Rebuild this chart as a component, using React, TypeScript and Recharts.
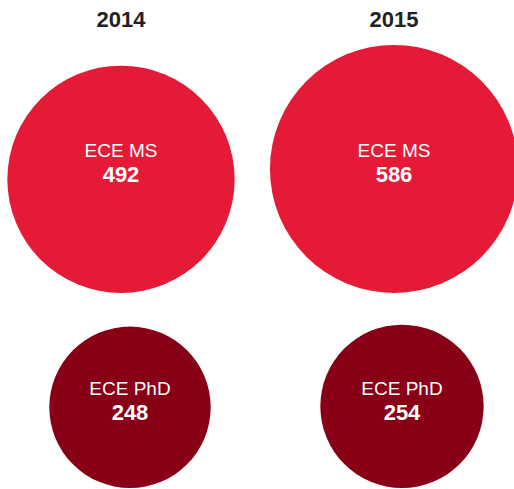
import React from 'react';
import { ScatterChart, Scatter, XAxis, YAxis, ZAxis } from 'recharts';

// Enrolment counts per year
const years = [2014, 2015];
const programs = ['ECE MS', 'ECE PhD'];
const msCounts = [492, 586];
const phdCounts = [248, 254];

const FONT = '"Liberation Sans", Arial, Helvetica, sans-serif';
const AREA_PER_UNIT = 82.5; // px² of bubble area per student
const Z_MAX = 600;

const radiusOf = (v: number) => Math.sqrt((v * AREA_PER_UNIT) / Math.PI);

const msData = years.map((year, i) => ({ year, row: 0, z: msCounts[i], program: programs[0] }));
const phdData = years.map((year, i) => ({ year, row: 1, z: phdCounts[i], program: programs[1] }));

// anchor (cx, cy) is the bottom of the bubble; all bubbles in a row share it
const makeBubble = (fill: string, counts: number[]) => (props: any) => {
  const { cx, cy, width, payload } = props;
  const r = width / 2;
  const textCenter = cy - radiusOf(Math.max(...counts));
  return (
    <g>
      <circle cx={cx} cy={cy - r} r={r} fill={fill} />
      <text x={cx} y={textCenter - 11.5} textAnchor="middle" fill="#fff" fontSize={19} fontFamily={FONT}>
        {payload.program}
      </text>
      <text x={cx} y={textCenter + 13.5} textAnchor="middle" fill="#fff" fontSize={22} fontWeight="bold" fontFamily={FONT}>
        {payload.z}
      </text>
    </g>
  );
};

const App: React.FC = () => {
  return (
    <div>
      <style>{'body{margin:0;}'}</style>
      <ScatterChart width={514} height={489} margin={{ top: 0, right: 0, bottom: 0, left: 0 }}>
        <XAxis
          xAxisId="ms"
          type="number"
          dataKey="year"
          orientation="top"
          domain={[2014, 2015]}
          ticks={years}
          height={30}
          padding={{ left: 121, right: 120 }}
          axisLine={false}
          tickLine={false}
          tickSize={0}
          tickMargin={3}
          tick={{ fill: '#222', fontSize: 22, fontWeight: 'bold', fontFamily: FONT }}
        />
        <XAxis
          xAxisId="phd"
          type="number"
          dataKey="year"
          domain={[2014, 2015]}
          padding={{ left: 130, right: 112 }}
          hide
        />
        <YAxis type="number" dataKey="row" domain={[0, 1]} reversed padding={{ top: 263, bottom: 1 }} hide />
        <ZAxis type="number" dataKey="z" domain={[0, Z_MAX]} range={[0, Z_MAX * AREA_PER_UNIT]} />
        <Scatter xAxisId="ms" data={msData} shape={makeBubble('#E41A37', msCounts)} isAnimationActive={false} />
        <Scatter xAxisId="phd" data={phdData} shape={makeBubble('#870016', phdCounts)} isAnimationActive={false} />
      </ScatterChart>
    </div>
  );
};

export default App;
